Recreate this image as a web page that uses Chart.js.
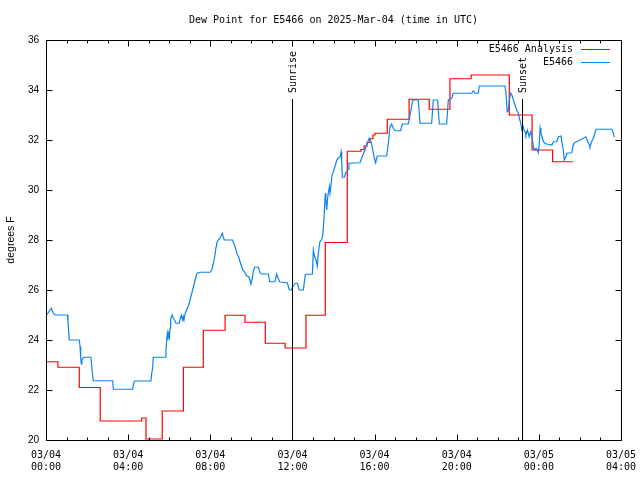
<!DOCTYPE html>
<html><head><meta charset="utf-8">
<script src="https://cdn.jsdelivr.net/npm/chart.js@4.4.1/dist/chart.umd.min.js"></script>
<style>html,body{margin:0;padding:0;background:#fff;}canvas{display:block;}</style>
</head><body>
<canvas id="c" width="640" height="480"></canvas>
<script>
const titleText = 'Dew Point for E5466 on 2025-Mar-04 (time in UTC)';
const yAxisTitle = 'degrees F';
const tickDates = ['03/04','03/04','03/04','03/04','03/04','03/04','03/05','03/05'];
const tickTimes = ['00:00','04:00','08:00','12:00','16:00','20:00','00:00','04:00'];
const seriesNames = ['E5466 Analysis','E5466'];
const seriesColors = ['#ff0000','#0a84f0'];
const eventNames = ['Sunrise','Sunset'];
const eventHours = [11.98, 23.19];

// hours since 03/04 00:00 UTC
const analysisHours = [0.00,0.58,1.62,2.64,4.66,4.87,5.66,6.69,7.66,8.72,9.69,10.68,11.64,12.66,13.60,14.67,15.34,15.49,15.63,15.78,15.92,16.02,16.62,17.68,18.66,19.67,20.70,22.56,23.67,24.67,25.65];
const analysisValues = [23.13,22.91,22.10,20.76,20.88,20.04,21.16,22.91,24.39,24.99,24.71,23.87,23.68,24.99,27.90,31.55,31.62,31.76,31.90,32.05,32.20,32.27,32.83,33.63,33.23,34.45,34.60,33.00,31.60,31.13,31.13];

const obsHours = [0.03,0.26,0.36,0.44,1.04,1.07,1.11,1.13,1.62,1.66,1.69,1.72,1.75,1.82,2.19,2.23,2.27,2.30,3.25,3.28,4.22,4.25,4.30,5.11,5.15,5.20,5.22,5.81,5.84,5.88,5.91,5.94,5.97,6.00,6.04,6.07,6.14,6.20,6.28,6.33,6.49,6.53,6.59,6.66,6.69,6.72,6.78,6.85,6.95,7.01,7.10,7.14,7.26,7.35,7.50,7.99,8.07,8.15,8.23,8.28,8.31,8.39,8.47,8.59,8.63,8.68,9.09,9.12,9.20,9.29,9.38,9.45,9.53,9.58,9.68,9.77,9.87,9.93,9.98,10.05,10.09,10.16,10.34,10.42,10.50,10.83,10.89,11.15,11.23,11.30,11.39,11.75,11.85,11.95,12.01,12.13,12.24,12.33,12.53,12.63,12.97,13.02,13.08,13.15,13.21,13.26,13.34,13.43,13.47,13.50,13.55,13.60,13.63,13.67,13.72,13.80,13.83,13.88,13.93,13.99,14.07,14.16,14.23,14.32,14.37,14.40,14.43,14.53,14.59,14.67,14.72,14.75,15.29,15.37,15.53,15.65,15.74,15.83,15.91,15.99,16.05,16.13,16.59,16.67,16.75,16.83,16.91,16.99,17.27,17.35,17.64,17.73,17.86,18.13,18.21,18.78,18.86,19.07,19.15,19.51,19.59,19.76,19.83,20.73,20.81,20.89,21.05,21.10,22.35,22.40,22.43,22.46,22.51,22.56,22.63,22.69,22.76,22.84,22.92,23.00,23.05,23.12,23.17,23.24,23.28,23.33,23.37,23.44,23.49,23.53,23.60,23.65,23.70,23.73,23.78,23.86,23.92,23.97,24.02,24.06,24.10,24.15,24.22,24.30,24.38,24.63,24.71,24.87,24.95,25.08,25.13,25.19,25.24,25.31,25.36,25.60,25.65,25.71,25.84,26.00,26.16,26.29,26.35,26.46,26.49,26.57,26.65,26.73,26.78,27.55,27.63,27.67];
const obsValues = [25.0,25.27,25.07,25.0,25.0,24.73,24.27,24.0,24.0,23.73,23.27,23.04,23.2,23.31,23.31,22.93,22.6,22.37,22.37,22.03,22.03,22.2,22.36,22.36,22.67,22.93,23.31,23.31,23.6,24.03,24.29,24.16,24.27,24.0,24.47,24.83,25.0,24.87,24.77,24.67,24.67,24.83,25.0,24.8,24.93,24.8,25.07,25.2,25.4,25.6,25.87,26.0,26.4,26.67,26.71,26.71,26.8,27.07,27.4,27.73,27.87,28.0,28.07,28.27,28.13,28.0,28.0,27.9,27.76,27.47,27.33,27.13,26.93,26.8,26.71,26.56,26.53,26.4,26.24,26.47,26.73,26.91,26.91,26.69,26.64,26.64,26.33,26.33,26.64,26.47,26.32,26.29,26.0,26.0,26.13,26.27,26.27,26.0,26.0,26.63,26.63,27.6,27.33,27.2,26.96,27.47,27.93,28.03,28.16,28.4,29.07,29.87,29.6,29.2,29.73,30.13,29.87,30.2,30.6,30.73,30.93,31.2,31.27,31.33,31.53,31.13,30.51,30.51,30.67,30.77,30.83,31.07,31.09,31.27,31.6,31.89,32.07,31.93,31.6,31.27,31.09,31.36,31.36,31.87,32.53,32.64,32.47,32.37,32.37,32.64,32.64,33.0,33.6,33.6,32.67,32.67,33.6,33.6,32.64,32.64,33.6,33.67,33.87,33.87,33.96,33.87,33.87,34.16,34.16,33.87,33.47,33.13,33.17,33.6,33.87,33.8,33.6,33.4,33.2,33.07,32.87,32.67,32.4,32.53,32.4,32.33,32.2,32.4,32.27,32.13,32.33,32.2,31.93,31.73,31.6,31.67,31.6,31.49,31.8,32.47,32.27,32.13,31.93,31.87,31.84,31.8,31.93,31.93,32.13,32.16,31.87,31.6,31.2,31.33,31.47,31.49,31.73,31.87,31.93,32.0,32.07,32.13,32.0,31.8,31.73,31.93,32.07,32.27,32.43,32.43,32.27,32.11];

const MONO = '"DejaVu Sans Mono", "Liberation Mono", monospace';
const SANS = '"Liberation Sans", Arial, sans-serif';

const decor = {
  id: 'decor',
  afterDatasetsDraw(chart) {
    const {ctx, chartArea: a, scales: {x, y}} = chart;
    ctx.save();
    ctx.strokeStyle = '#000';
    ctx.fillStyle = '#000';
    ctx.lineWidth = 1;
    // sunrise / sunset markers
    eventHours.forEach((h, i) => {
      const px = Math.round(x.getPixelForValue(h)) + 0.5;
      const top = Math.round(y.getPixelForValue(33.65));
      ctx.beginPath(); ctx.moveTo(px, top); ctx.lineTo(px, a.bottom); ctx.stroke();
      ctx.save();
      ctx.translate(px + 1, top - 6);
      ctx.rotate(-Math.PI / 2);
      ctx.font = '10px ' + MONO;
      ctx.textAlign = 'left'; ctx.textBaseline = 'middle';
      ctx.fillText(eventNames[i], 0, 0);
      ctx.restore();
    });
    // frame
    const L = Math.round(a.left) + 0.5, R = Math.round(a.right) + 0.5;
    const T = Math.round(a.top) + 0.5, B = Math.round(a.bottom) + 0.5;
    ctx.strokeRect(L, T, R - L, B - T);
    // ticks (inward, mirrored)
    ctx.beginPath();
    for (let h = x.min; h <= x.max; h += 1) {
      const px = Math.round(x.getPixelForValue(h)) + 0.5;
      const len = (h % 4 === 0) ? 6 : 3;
      ctx.moveTo(px, B); ctx.lineTo(px, B - len);
      ctx.moveTo(px, T); ctx.lineTo(px, T + len);
    }
    y.ticks.forEach(t => {
      const py = Math.round(y.getPixelForValue(t.value)) + 0.5;
      ctx.moveTo(L, py); ctx.lineTo(L + 6, py);
      ctx.moveTo(R, py); ctx.lineTo(R - 6, py);
    });
    ctx.stroke();
    // legend
    ctx.font = '10px ' + MONO;
    ctx.textAlign = 'right'; ctx.textBaseline = 'middle';
    const rows = [49.5, 62.5];
    chart.data.datasets.forEach((ds, i) => {
      const yy = rows[i];
      ctx.fillStyle = '#000';
      ctx.fillText(ds.label, 573, yy);
      ctx.strokeStyle = ds.borderColor;
      ctx.beginPath(); ctx.moveTo(581, yy); ctx.lineTo(610, yy); ctx.stroke();
    });
    ctx.restore();
  }
};

new Chart(document.getElementById('c'), {
  type: 'line',
  data: {
    datasets: [
      {
        label: seriesNames[0],
        data: analysisHours.map((h, i) => ({x: h, y: analysisValues[i]})),
        borderColor: seriesColors[0], borderWidth: 1.2, pointRadius: 0,
        stepped: 'before', fill: false, order: 1
      },
      {
        label: seriesNames[1],
        data: obsHours.map((h, i) => ({x: h, y: obsValues[i]})),
        borderColor: seriesColors[1], borderWidth: 1.2, pointRadius: 0,
        tension: 0, fill: false, order: 0
      }
    ]
  },
  options: {
    responsive: false,
    animation: false,
    devicePixelRatio: 1,
    layout: {padding: {left: 0, right: 19, top: 0, bottom: 0}},
    plugins: {
      legend: {display: false},
      tooltip: {enabled: false},
      title: {
        display: true, text: titleText, fullSize: false, color: '#000',
        font: {family: MONO, size: 10, weight: 'normal', lineHeight: 1.2},
        padding: {top: 14, bottom: 14}
      }
    },
    scales: {
      x: {
        type: 'linear', min: 0, max: 28,
        grid: {display: false, drawTicks: false},
        border: {display: false},
        ticks: {
          stepSize: 4, autoSkip: false, maxRotation: 0, padding: 9, color: '#000',
          font: {family: MONO, size: 10, lineHeight: 1.2},
          callback: v => [tickDates[v / 4], tickTimes[v / 4]]
        },
        afterFit(s) { s.height = 40; s.paddingLeft = 0; s.paddingRight = 0; }
      },
      y: {
        min: 20, max: 36,
        grid: {display: false, drawTicks: false},
        border: {display: false},
        ticks: {stepSize: 2, padding: 7, color: '#000', font: {family: SANS, size: 10}},
        title: {display: true, text: yAxisTitle, color: '#000', font: {family: SANS, size: 10.5}, padding: {top: 5, bottom: 0}},
        afterFit(s) { s.width = 46; s.paddingTop = 0; s.paddingBottom = 0; }
      }
    }
  },
  plugins: [decor]
});
</script>
</body></html>
